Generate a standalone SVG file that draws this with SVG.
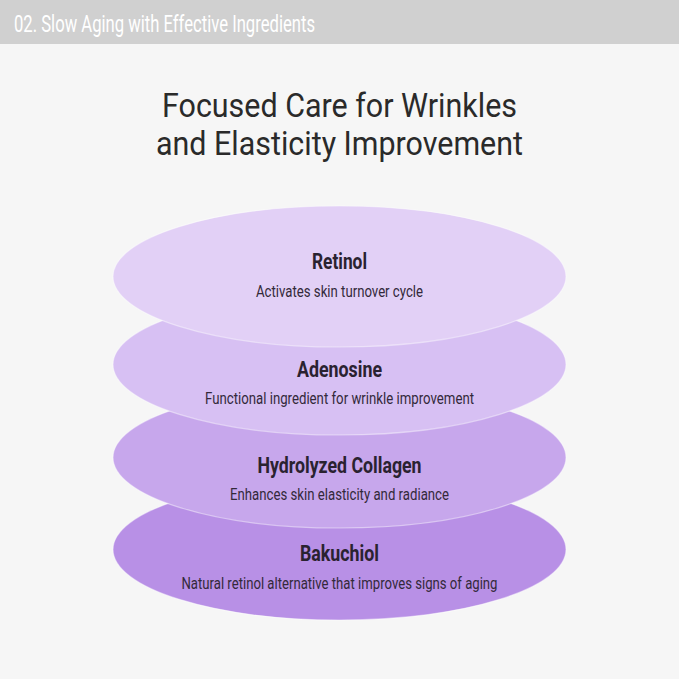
<svg xmlns="http://www.w3.org/2000/svg" width="679" height="679" viewBox="0 0 679 679">
<style>
.hdr{font-family:Roboto,"Liberation Sans",sans-serif;font-size:23px;fill:#ffffff}
.main{font-family:Roboto,"Liberation Sans",sans-serif;font-size:33px;fill:#2a2a2a;text-anchor:middle}
.t{font-family:Roboto,"Liberation Sans",sans-serif;font-size:22px;font-weight:bold;fill:#2a2230;text-anchor:middle}
.s{font-family:Roboto,"Liberation Sans",sans-serif;font-size:16px;fill:#33293a;text-anchor:middle}
.ell{stroke:#ffffff;stroke-opacity:0.45;stroke-width:1.2}
</style>
<rect x="0" y="0" width="679" height="679" fill="#f6f6f6"/>
<rect x="0" y="0" width="679" height="44" fill="#d0d0d0"/>
<text class="hdr" x="14" y="32" textLength="301" lengthAdjust="spacingAndGlyphs">02. Slow Aging with Effective Ingredients</text>
<text class="main" x="339.5" y="117" textLength="355" lengthAdjust="spacingAndGlyphs">Focused Care for Wrinkles</text>
<text class="main" x="339.5" y="155" textLength="367" lengthAdjust="spacingAndGlyphs">and Elasticity Improvement</text>
<g id="bakuchiol">
<ellipse class="ell" cx="339.5" cy="549.5" rx="226.5" ry="70.5" fill="#b890e6"/>
<text class="t" x="339.5" y="561" textLength="79" lengthAdjust="spacingAndGlyphs">Bakuchiol</text>
<text class="s" x="339.5" y="589" textLength="316" lengthAdjust="spacingAndGlyphs">Natural retinol alternative that improves signs of aging</text>
</g>
<g id="hydrolyzed-collagen">
<ellipse class="ell" cx="339.5" cy="457.5" rx="226.5" ry="70.5" fill="#c7a7ec"/>
<text class="t" x="339.5" y="473" textLength="164" lengthAdjust="spacingAndGlyphs">Hydrolyzed Collagen</text>
<text class="s" x="339.5" y="500" textLength="219" lengthAdjust="spacingAndGlyphs">Enhances skin elasticity and radiance</text>
</g>
<g id="adenosine">
<ellipse class="ell" cx="339.5" cy="364.5" rx="226.5" ry="70.5" fill="#d7c0f3"/>
<text class="t" x="339.5" y="377" textLength="85" lengthAdjust="spacingAndGlyphs">Adenosine</text>
<text class="s" x="339.5" y="404" textLength="269" lengthAdjust="spacingAndGlyphs">Functional ingredient for wrinkle improvement</text>
</g>
<g id="retinol">
<ellipse class="ell" cx="339.5" cy="276.5" rx="226.5" ry="70.5" fill="#e2d0f6"/>
<text class="t" x="339.5" y="269" textLength="55" lengthAdjust="spacingAndGlyphs">Retinol</text>
<text class="s" x="339.5" y="297" textLength="167" lengthAdjust="spacingAndGlyphs">Activates skin turnover cycle</text>
</g>
<g id="connectors"/>
</svg>
